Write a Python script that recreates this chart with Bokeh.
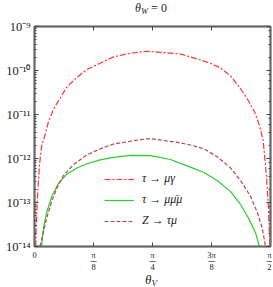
import numpy as np
from bokeh.plotting import figure
from bokeh.layouts import column
from bokeh.models import (LogAxis, LinearAxis, FixedTicker, LogTicker, CustomJSTickFormatter,
                          Legend, LegendItem, Range1d, Div)
from bokeh.embed import file_html
from bokeh.resources import INLINE

# ---- data ----
theta_ticks = [0.0, np.pi / 8, np.pi / 4, 3 * np.pi / 8, np.pi / 2]
theta_tick_labels = ["0", "π\n\u2500\n8", "π\n\u2500\n4", "3π\n\u2500\n8", "π\n\u2500\n2"]

red_theta = [0.0087, 0.0113, 0.020, 0.0333, 0.0486, 0.0712, 0.0932, 0.1265, 0.171, 0.215, 0.2815,
             0.348, 0.437, 0.526, 0.639, 0.759, 0.972, 1.105, 1.171, 1.238, 1.305, 1.371, 1.426,
             1.471, 1.4995, 1.522, 1.544, 1.557, 1.567]
red_vals = [1.0e-14, 2.64e-14, 1.36e-13, 7.4e-13, 2.0e-12, 3.5e-12, 6.9e-12, 1.32e-11, 2.37e-11,
            4.2e-11, 6.9e-11, 1.05e-10, 1.46e-10, 2.04e-10, 2.48e-10, 2.74e-10, 2.37e-10, 1.73e-10,
            1.46e-10, 1.14e-10, 7.5e-11, 3.9e-11, 2.0e-11, 1.03e-11, 5.3e-12, 2.52e-12, 4.1e-13,
            7.1e-14, 1.0e-14]

green_theta = [0.0466, 0.060, 0.0819, 0.1151, 0.1597, 0.215, 0.2815, 0.348, 0.437, 0.526, 0.639,
               0.772, 0.905, 1.038, 1.127, 1.216, 1.305, 1.371, 1.426, 1.471, 1.4975]
green_vals = [1.0e-14, 2.64e-14, 6.1e-14, 1.38e-13, 2.73e-13, 4.4e-13, 6.1e-13, 7.6e-13, 9.3e-13,
              1.06e-12, 1.18e-12, 1.16e-12, 9.5e-13, 6.35e-13, 4.8e-13, 3.17e-13, 1.77e-13,
              9.1e-14, 4.3e-14, 2.06e-14, 1.0e-14]

brown_theta = [0.0366, 0.060, 0.0865, 0.1151, 0.1484, 0.193, 0.2596, 0.348, 0.437, 0.526, 0.706,
               0.772, 0.952, 1.038, 1.127, 1.216, 1.305, 1.371, 1.438, 1.482, 1.5155, 1.538]
brown_vals = [1.0e-14, 2.24e-14, 5.1e-14, 1.08e-13, 2.1e-13, 4.1e-13, 7.3e-13, 1.2e-12, 1.66e-12,
              2.13e-12, 2.69e-12, 2.83e-12, 2.32e-12, 2.03e-12, 1.66e-12, 1.1e-12, 6.1e-13,
              3.17e-13, 1.38e-13, 6.05e-14, 2.64e-14, 1.0e-14]

series_labels = ["τ → μγ", "τ → μ\u03bc\u0304μ", "Z → τμ"]

FONT = "Liberation Serif"
AX = "#6a6a6a"
TXT = "#222222"

p = figure(width=272, height=258, x_range=Range1d(0, np.pi / 2), y_range=Range1d(1e-14, 1e-9),
           y_axis_type="log", output_backend="svg", toolbar_location=None, title=None,
           min_border_left=34, min_border_right=2, min_border_top=10, min_border_bottom=16)
p.xgrid.visible = False
p.ygrid.visible = False
p.outline_line_color = AX
p.outline_line_width = 1.5
p.background_fill_color = "white"
p.border_fill_color = "white"


def style(ax):
    ax.axis_line_color = AX
    ax.axis_line_width = 2
    ax.major_tick_in = 4
    ax.major_tick_out = 0
    ax.minor_tick_in = 2
    ax.minor_tick_out = 0
    ax.major_tick_line_color = "#444444"
    ax.minor_tick_line_color = "#444444"
    ax.major_label_text_font = FONT
    ax.major_label_text_color = TXT


# bottom
xb = p.xaxis[0]
xb.ticker = FixedTicker(ticks=theta_ticks, minor_ticks=[])
xb.formatter = CustomJSTickFormatter(args=dict(labels=theta_tick_labels), code="return labels[index]")
style(xb)
xb.major_label_text_font_size = "8.5px"
xb.major_label_text_line_height = 0.6
xb.major_label_standoff = 3

# left
yl = p.yaxis[0]
yl.formatter = CustomJSTickFormatter(code="""
const e = Math.round(Math.log10(tick));
const sup = {'-':'\u207b','0':'\u2070','1':'\u00b9','2':'\u00b2','3':'\u00b3','4':'\u2074',
             '5':'\u2075','6':'\u2076','7':'\u2077','8':'\u2078','9':'\u2079'};
return '10' + String(e).split('').map(c => sup[c]).join('');
""")
style(yl)
yl.major_label_text_font_size = "12.5px"
yl.major_label_standoff = 4

# top & right (ticks only)
blank = CustomJSTickFormatter(code="return ''")
xt = LinearAxis(ticker=FixedTicker(ticks=theta_ticks, minor_ticks=[]), formatter=blank)
style(xt)
xt.major_label_standoff = 0
xt.major_label_text_font_size = "1px"
p.add_layout(xt, "above")
yr = LogAxis(ticker=LogTicker(), formatter=blank)
style(yr)
yr.major_label_standoff = 0
yr.major_label_text_font_size = "1px"
p.add_layout(yr, "right")

r1 = p.line(red_theta, red_vals, line_color="#ff3030", line_width=1.2, line_dash="6 2 2 2")
r2 = p.line(green_theta, green_vals, line_color="#2ecc2e", line_width=1.2)
r3 = p.line(brown_theta, brown_vals, line_color="#b04a4a", line_width=1.2, line_dash="4 2")

legend = Legend(items=[LegendItem(label=series_labels[0], renderers=[r1]),
                       LegendItem(label=series_labels[1], renderers=[r2]),
                       LegendItem(label=series_labels[2], renderers=[r3])],
                location=(70, 18), padding=0, margin=0, spacing=6,
                glyph_width=30, glyph_height=12, label_height=12, label_standoff=8,
                border_line_alpha=0, background_fill_alpha=0,
                label_text_font=FONT, label_text_font_style="italic",
                label_text_font_size="12px", label_text_color=TXT)
p.add_layout(legend)

DIV_STYLE = {"text-align": "center", "font-family": FONT, "color": TXT, "overflow": "visible",
             "line-height": "12px"}

title_div = Div(width=236, height=16, margin=(0, 0, 0, 33), styles=DIV_STYLE,
                text='<span style="font-size:12px;line-height:16px"><i>θ</i>'
                     '<span style="font-size:8.5px;position:relative;top:2px"><i>W</i></span>'
                     ' = 0</span>')
xlabel_div = Div(width=236, height=12, margin=(0, 0, 0, 33), styles=DIV_STYLE,
                 text='<span style="font-size:13px;line-height:12px"><i>θ</i>'
                      '<span style="font-size:9px;position:relative;top:2px"><i>V</i></span>'
                      '</span>')

layout = column(title_div, p, xlabel_div, spacing=0)

open("out.html", "w").write(file_html(layout, INLINE))
